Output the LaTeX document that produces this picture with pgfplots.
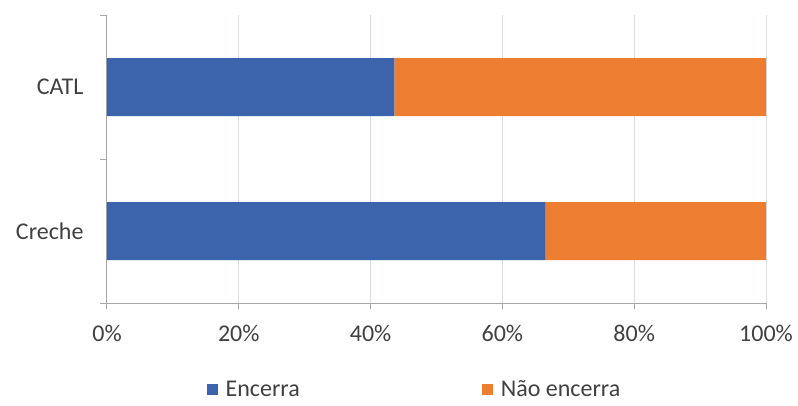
\documentclass[border=0pt]{standalone}
\usepackage{fontspec}
\setmainfont{Carlito}
\usepackage{pgfplots}
\pgfplotsset{compat=1.18}
\definecolor{encblue}{HTML}{3B64AD}
\definecolor{naoorange}{HTML}{ED7D31}
\definecolor{axisgray}{HTML}{A6A6A6}
\definecolor{gridc}{HTML}{D9DEEA}
\definecolor{txt}{HTML}{404040}
\begin{document}
\begin{tikzpicture}
\useasboundingbox (0,0) rectangle (798pt,405pt);
\begin{axis}[
  at={(107pt,102pt)}, anchor=south west,
  scale only axis, width=659pt, height=288pt,
  xbar stacked, bar width=58pt,
  xmin=0, xmax=100, ymin=-0.5, ymax=1.5,
  axis x line=bottom, axis y line=left,
  axis line style={-, draw=axisgray, line width=1pt},
  xtick={0,20,40,60,80,100},
  xticklabel={\pgfmathprintnumber{\tick}\%},
  /pgf/number format/assume math mode=true,
  tick align=outside,
  major tick length=6pt,
  minor tick length=7pt,
  major x tick style={draw=axisgray, line width=1pt},
  ytick={0,1}, yticklabels={Creche,CATL},
  major y tick style={draw=none},
  minor ytick={-0.5,0.5,1.5},
  minor y tick style={draw=axisgray, line width=1pt},
  xmajorgrids, grid style={draw=gridc, line width=1pt},
  tick label style={font=\fontsize{24}{28}\selectfont, text=txt},
  xticklabel style={yshift=-13pt},
  yticklabel style={xshift=-14pt},
  legend columns=2,
  legend style={at={(0.4666,-0.30)}, anchor=center, draw=none, fill=none,
    font=\fontsize{24}{28}\selectfont, text=txt,
    /tikz/every even column/.append style={column sep=180pt}},
  legend image code/.code={\fill[#1] (0pt,-5.5pt) rectangle (11pt,5.5pt); \path (17pt,0pt);},
]
\addplot[fill=encblue, draw=none] coordinates {(66.5,0) (43.6,1)};
\addplot[fill=naoorange, draw=none] coordinates {(33.5,0) (56.4,1)};
\legend{Encerra, Não encerra}
\end{axis}
\end{tikzpicture}
\end{document}
